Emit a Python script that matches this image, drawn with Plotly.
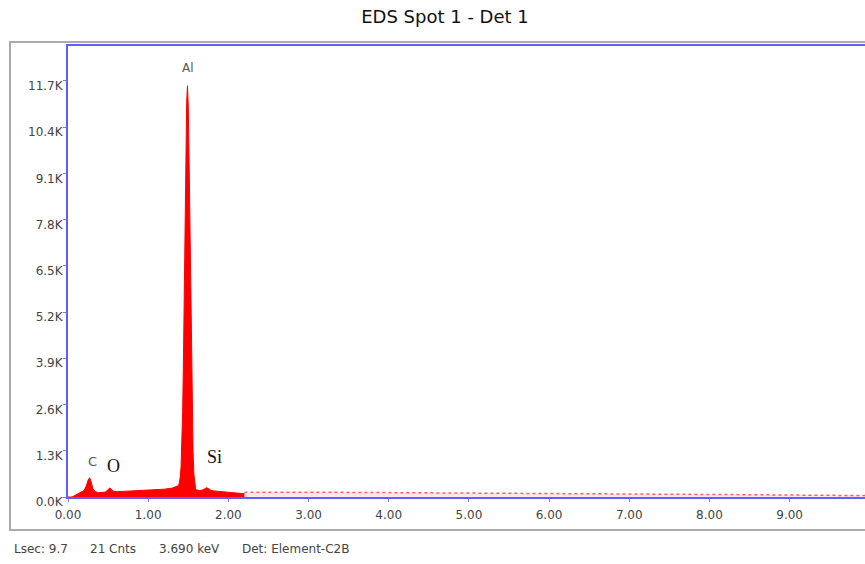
import plotly.graph_objects as go

# ---- data ----
energy_kev = [0.00, 0.05, 0.10, 0.15, 0.20, 0.23, 0.25, 0.27, 0.29, 0.31, 0.34, 0.38,
              0.42, 0.47, 0.50, 0.52, 0.54, 0.57, 0.62, 0.70, 0.80, 0.90, 1.00, 1.10,
              1.20, 1.30, 1.35, 1.38, 1.39, 1.40, 1.41, 1.42, 1.43, 1.44, 1.45, 1.46,
              1.47, 1.48, 1.49, 1.50, 1.51, 1.52, 1.53, 1.54, 1.55, 1.56, 1.57, 1.58,
              1.59, 1.60, 1.64, 1.68, 1.71, 1.73, 1.75, 1.78, 1.82, 1.90, 2.00, 2.10, 2.20]
counts = [0, 0, 60, 110, 180, 320, 470, 540, 420, 230, 150, 120,
          120, 140, 210, 250, 220, 160, 150, 160, 170, 180, 190, 200,
          220, 250, 280, 320, 420, 560, 850, 1400, 2400, 3850, 5700, 7800,
          9700, 11100, 11560, 11000, 9500, 7500, 5400, 3600, 2200, 1250, 650, 360,
          250, 200, 180, 200, 240, 260, 240, 190, 170, 150, 130, 110, 90]

tail_energy_kev = [2.20, 2.50, 3.00, 3.50, 4.00, 4.50, 5.00, 5.50, 6.00, 6.50, 7.00,
                   7.50, 8.00, 8.50, 9.00, 9.50, 9.94]
tail_counts = [130, 135, 135, 130, 125, 120, 115, 110, 105, 100, 95, 85, 75, 65, 55, 45, 40]

y_tick_vals = [0, 1300, 2600, 3900, 5200, 6500, 7800, 9100, 10400, 11700]
y_tick_text = ["0.0K", "1.3K", "2.6K", "3.9K", "5.2K", "6.5K", "7.8K", "9.1K", "10.4K", "11.7K"]
x_tick_vals = [0, 1, 2, 3, 4, 5, 6, 7, 8, 9]
x_tick_text = ["0.00", "1.00", "2.00", "3.00", "4.00", "5.00", "6.00", "7.00", "8.00", "9.00"]

peak_labels = ["C", "O", "Al", "Si"]
peak_label_x = [0.30, 0.57, 1.50, 1.83]
peak_label_y = [1010, 870, 12060, 1125]

footer_items = ["Lsec: 9.7", "21 Cnts", "3.690 keV", "Det: Element-C2B"]

SANS = "DejaVu Sans, sans-serif"
SERIF = "Liberation Serif, Times New Roman, serif"

fig = go.Figure()
fig.add_trace(go.Scatter(x=energy_kev, y=counts, mode="lines", fill="tozeroy",
                         line=dict(color="#ff0000", width=1), fillcolor="#ff0000",
                         hoverinfo="skip", showlegend=False))
fig.add_trace(go.Scatter(x=tail_energy_kev, y=tail_counts, mode="lines", fill="tozeroy",
                         line=dict(color="rgba(255,30,30,0.7)", width=1.5, dash="dot"),
                         fillcolor="rgba(255,120,120,0.18)",
                         hoverinfo="skip", showlegend=False))

blue = "rgb(95,95,255)"
fig.update_xaxes(range=[0, 9.94], tickvals=x_tick_vals, ticktext=x_tick_text,
                 showgrid=False, zeroline=False, showline=True, linecolor=blue,
                 linewidth=2, mirror=True, ticks="outside", ticklen=3,
                 tickcolor="#888", ticklabelstandoff=3,
                 tickfont=dict(family=SANS, size=12, color="#444"))
fig.update_yaxes(range=[0, 12680], tickvals=y_tick_vals, ticktext=y_tick_text,
                 showgrid=False, zeroline=False, showline=True, linecolor=blue,
                 linewidth=2, mirror=False, ticks="outside", ticklen=3,
                 tickcolor="#888", ticklabelshift=5, ticklabelstandoff=-2,
                 tickfont=dict(family=SANS, size=12, color="#444"))

fonts = [dict(family=SANS, size=13, color="#555"),
         dict(family=SERIF, size=18, color="#111"),
         dict(family=SANS, size=12, color="#555"),
         dict(family=SERIF, size=18, color="#111")]
annotations = []
for t, xv, yv, f in zip(peak_labels, peak_label_x, peak_label_y, fonts):
    annotations.append(dict(text=t, x=xv, y=yv, xref="x", yref="y", showarrow=False,
                            font=f, xanchor="center", yanchor="middle"))

footer_x = [12, 88, 157, 240]
for t, px in zip(footer_items, footer_x):
    annotations.append(dict(text=t, x=(px - 68) / 797, y=-(549 - 497) / 451,
                            xref="paper", yref="paper", showarrow=False,
                            xanchor="left", yanchor="middle",
                            font=dict(family=SANS, size=12, color="#444")))

fig.update_layout(
    width=865, height=564,
    margin=dict(l=68, r=0, t=46, b=67),
    paper_bgcolor="white", plot_bgcolor="white",
    title=dict(text="EDS Spot 1 - Det 1", x=445 / 865, xanchor="center",
               y=1 - 17 / 564, yanchor="middle",
               font=dict(family=SANS, size=18, color="#111")),
    annotations=annotations,
    shapes=[dict(type="rect", xref="paper", yref="paper",
                 x0=(10 - 68) / 797, x1=1.02, y0=-(530 - 497) / 451, y1=1 + 4 / 451,
                 line=dict(color="#aaaaaa", width=2), layer="below")],
)

fig.write_html("out.html")
